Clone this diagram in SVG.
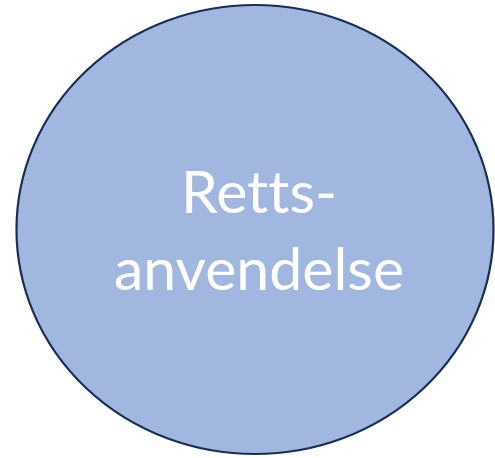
<svg xmlns="http://www.w3.org/2000/svg" width="495" height="458" viewBox="0 0 495 458">
  <style>
    .shape { fill: #A1B7E0; stroke: #1A2D55; stroke-width: 2.2; }
    .label { fill: #FFFFFF; font-family: Lato, "Open Sans", "Liberation Sans", sans-serif; font-size: 59px; text-anchor: middle; font-variant-ligatures: none; font-feature-settings: "liga" 0; }
  </style>
  <rect width="495" height="458" fill="#FFFFFF"/>
  <g id="node-rettsanvendelse">
    <ellipse class="shape" cx="255" cy="229.5" rx="238.5" ry="224.5"/>
    <text class="label" x="259" y="213">Retts-</text>
    <text class="label" x="259" y="290">anvendelse</text>
  </g>
</svg>
